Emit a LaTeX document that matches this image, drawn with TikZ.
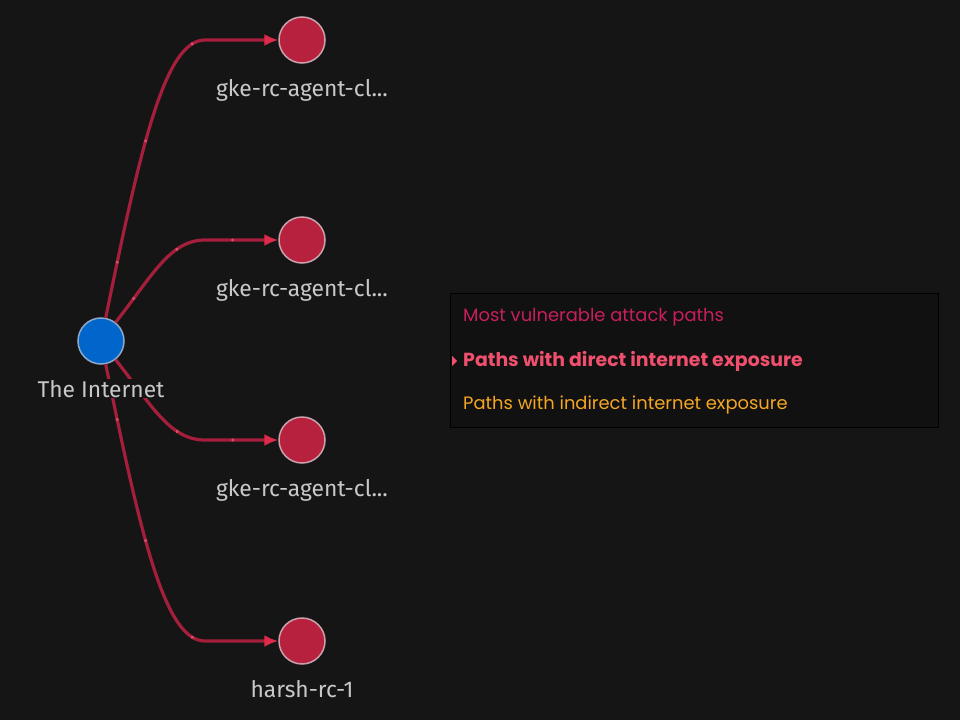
\documentclass[tikz,border=0pt]{standalone}
\usepackage{fontspec}
\setmainfont{Fira Sans}
\newfontfamily\legendfont{Poppins}
\usetikzlibrary{positioning,arrows.meta,decorations.markings}
\definecolor{canvas}{HTML}{151515}
\definecolor{legendbg}{HTML}{111111}
\definecolor{hubblue}{HTML}{0066CC}
\definecolor{hubrim}{HTML}{8FA8C8}
\definecolor{hostred}{HTML}{B8213E}
\definecolor{hostrim}{HTML}{C9A3AB}
\definecolor{pathred}{HTML}{A51E3C}
\definecolor{tipred}{HTML}{E02A4C}
\definecolor{dotpink}{HTML}{D8506C}
\definecolor{labelgray}{HTML}{C8C8C8}
\definecolor{mostvuln}{HTML}{C81E5E}
\definecolor{directexp}{HTML}{F0506E}
\definecolor{indirectexp}{HTML}{F5A623}
\tikzset{
  hub/.style   = {circle, minimum size=46pt, inner sep=0pt, fill=hubblue, draw=hubrim, line width=1.5pt},
  host/.style  = {circle, minimum size=46pt, inner sep=0pt, fill=hostred, draw=hostrim, line width=1.5pt},
  lbl/.style   = {text=labelgray, fill=canvas, font=\fontsize{22.8}{26}\selectfont, inner sep=1pt},
  edge/.style  = {draw=pathred, line width=3.2pt, -{Latex[length=14pt,width=12pt,color=tipred]},
                  postaction={decorate, decoration={markings,
                    mark=at position 0.15 with {\fill[dotpink] circle (1.7pt);},
                    mark=at position 0.48 with {\fill[dotpink] circle (1.7pt);},
                    mark=at position 0.77 with {\fill[dotpink] circle (1.7pt);}}}},
  legtext/.style = {anchor=west, inner sep=0pt, font=\legendfont\fontsize{17.9}{21}\selectfont}
}
\begin{document}
\begin{tikzpicture}[x=1pt, y=-1pt]
  % canvas
  \fill[canvas] (0,0) rectangle (960,720);
  \useasboundingbox (0,0) rectangle (960,720);

  % nodes
  \node[hub]  (inet)  at (101,341) {};
  \node[host] (gkea)  at (302,40)  {};
  \node[host] (gkeb)  at (302,240) {};
  \node[host] (gkec)  at (302,440) {};
  \node[host] (harsh) at (302,641) {};

  % attack paths
  \draw[edge] (inet) .. controls (141,145) and (165,40)  .. (205,40)  -- (gkea);
  \draw[edge] (inet) .. controls (152,276) and (170,240) .. (205,240) -- (gkeb);
  \draw[edge] (inet) .. controls (152,406) and (170,440) .. (205,440) -- (gkec);
  \draw[edge] (inet) .. controls (141,537) and (165,641) .. (205,641) -- (harsh);

  % labels
  \node[lbl, below=14pt of inet]  (inetlbl)  {The Internet};
  \node[lbl, below=14pt of gkea]  (gkealbl)  {gke-rc-agent-cl...};
  \node[lbl, below=14pt of gkeb]  (gkeblbl)  {gke-rc-agent-cl...};
  \node[lbl, below=14pt of gkec]  (gkeclbl)  {gke-rc-agent-cl...};
  \node[lbl, below=14pt of harsh] (harshlbl) {harsh-rc-1};

  % legend
  \node[draw=black, fill=legendbg, line width=1.2pt, minimum width=488pt, minimum height=134pt,
        anchor=north west, inner sep=0pt] (legend) at (450,293) {};
  \node[legtext, text=mostvuln]    (legmost)     at (463,317) {Most vulnerable attack paths};
  \node[legtext, text=directexp, font=\legendfont\bfseries\fontsize{18.9}{22}\selectfont]
        (legdirect)   at (463,361) {Paths with direct internet exposure};
  \node[legtext, text=indirectexp] (legindirect) at (463,405) {Paths with indirect internet exposure};
  \fill[directexp] (452,356) -- (457,361) -- (452,366) -- cycle;
\end{tikzpicture}
\end{document}
